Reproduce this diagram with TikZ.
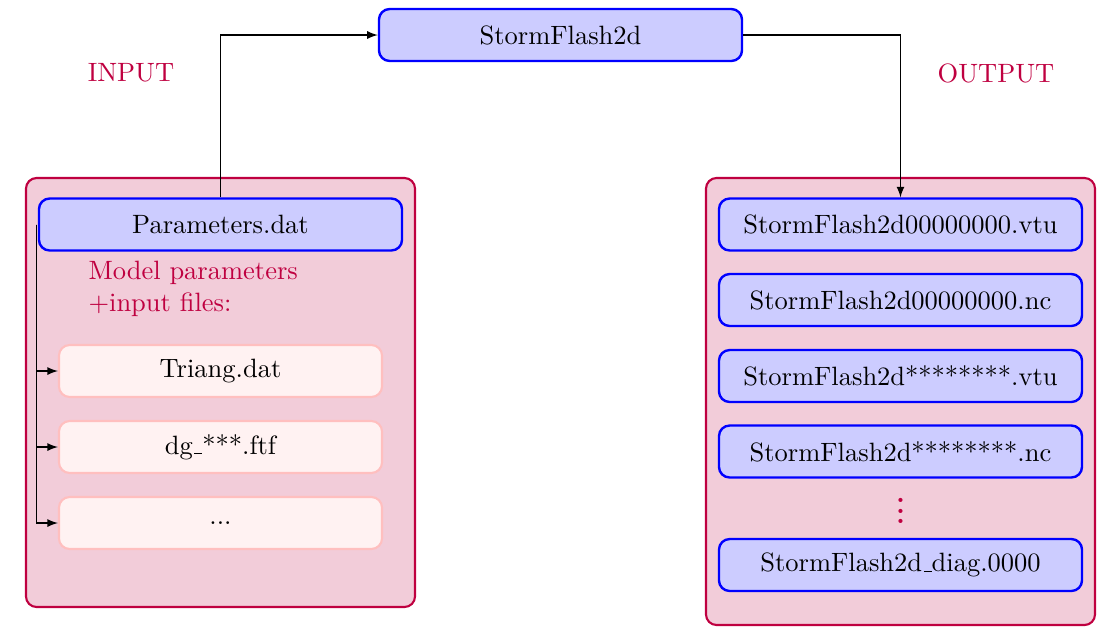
\documentclass[tikz,border=0pt]{standalone}
\usetikzlibrary{arrows}
\newcommand\uscore{\leavevmode\kern.06em\vbox{\hrule width.3em}}
\begin{document}
\begin{tikzpicture}[x=0.37736pt,y=-0.37736pt,
  bluebox/.style={draw=blue,fill=blue!20,line width=0.9pt,rounded corners=4pt,
    minimum width=137pt,minimum height=19.6pt,inner sep=0pt},
  lightbox/.style={draw=red!25,fill=red!5,line width=0.8pt,rounded corners=4pt,
    minimum width=121.9pt,minimum height=19.6pt,inner sep=0pt},
  outerbox/.style={draw=purple,fill=purple!20,line width=0.8pt,rounded corners=4pt,inner sep=0pt},
  lbl/.style={text=purple,inner sep=0pt},
  conn/.style={-latex,line width=0.4pt}]
\useasboundingbox (0,0) rectangle (1120,634);
% outer containers
\node[outerbox,minimum width=146.8pt,minimum height=161.9pt] (inbox) at (220.5,392.5) {};
\node[outerbox,minimum width=146.8pt,minimum height=168.7pt] (outbox) at (900.5,401.5) {};
% main
\node[bluebox] (main) at (560.5,35) {StormFlash2d};
\node[lbl] (inlbl) at (131,73) {INPUT};
\node[lbl] (outlbl) at (996,73) {OUTPUT};
% input side
\node[bluebox] (par) at (220.5,224.5) {Parameters.dat};
\node[lbl,anchor=base west] (m1) at (88,279) {Model parameters};
\node[lbl,anchor=base west] (m2) at (88,311) {+input files:};
\node[lightbox] (tri) at (220.5,371) {Triang.dat};
\node[lightbox] (dg) at (220.5,447) {dg\uscore***.ftf};
\node[lightbox] (dots) at (220.5,523) {...};
% output side
\node[bluebox] (o1) at (900.5,224.5) {StormFlash2d00000000.vtu};
\node[bluebox] (o2) at (900.5,300) {StormFlash2d00000000.nc};
\node[bluebox] (o3) at (900.5,376) {StormFlash2d********.vtu};
\node[bluebox] (o4) at (900.5,451.5) {StormFlash2d********.nc};
\node[text=purple,inner sep=0pt,font=\bfseries] (vd) at (900.5,503) {\vdots};
\node[bluebox] (o5) at (900.5,565) {StormFlash2d\uscore diag.0000};
% connectors
\draw[conn] (par.north) |- (main.west);
\draw[conn] (main.east) -| (o1.north);
\coordinate (pw) at ([xshift=-0.4pt]par.west);
\draw[conn] (pw) |- (tri.west);
\draw[conn] (pw) |- (dg.west);
\draw[conn] (pw) |- (dots.west);
\end{tikzpicture}
\end{document}
